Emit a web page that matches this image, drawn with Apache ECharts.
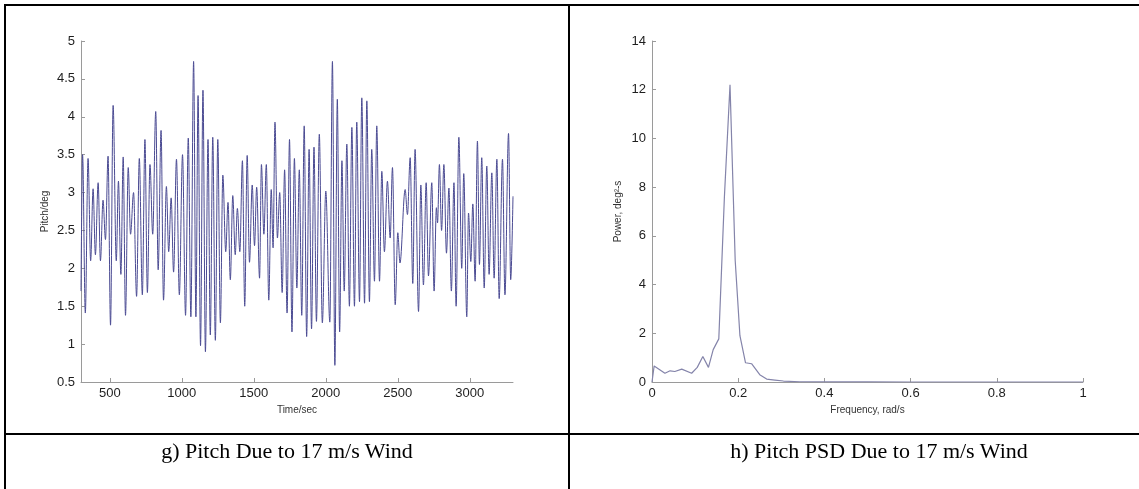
<!DOCTYPE html>
<html>
<head>
<meta charset="utf-8">
<script src="https://cdn.jsdelivr.net/npm/echarts@6/dist/echarts.min.js"></script>
<style>
  html, body { margin: 0; padding: 0; background: #fff; }
  #wrap { position: relative; width: 1139px; height: 489px; overflow: hidden; background: #fff; }
  #chart { position: absolute; left: 0; top: 0; width: 1139px; height: 489px; }
  .ln { position: absolute; background: #000; }
  .cap { position: absolute; top: 438px; height: 26px; line-height: 26px; text-align: center;
         font-family: "Liberation Serif", "DejaVu Serif", serif; font-size: 22px; color: #000; white-space: nowrap; }
  .cap span { display: inline-block; }
</style>
</head>
<body>
<div id="wrap">
  <div id="chart"></div>
  <div class="ln" style="left:4px; top:4px; width:1135px; height:2px;"></div>
  <div class="ln" style="left:4px; top:4px; width:2px; height:485px;"></div>
  <div class="ln" style="left:568px; top:4px; width:2px; height:485px;"></div>
  <div class="ln" style="left:4px; top:433px; width:1135px; height:2px;"></div>
  <div class="cap" style="left:6px; width:562px;"><span>g) Pitch Due to 17 m/s Wind</span></div>
  <div class="cap" style="left:570px; width:618px;"><span>h) Pitch PSD Due to 17 m/s Wind</span></div>
</div>
<script>
// ---- Panel g: pitch time history (extrema) ----
const pitchTime = [
  300, 311, 330, 349, 367, 384, 400, 419, 435, 453, 470, 488, 505, 523, 545, 560, 577, 593, 609, 628,
  644, 665, 686, 705, 726, 744, 761, 779, 798, 819, 836, 856, 873, 893, 909, 926, 943, 963, 983, 1005,
  1026, 1045, 1063, 1082, 1098, 1113, 1130, 1147, 1164, 1182, 1198, 1215, 1233, 1250, 1268, 1285, 1305, 1321, 1337, 1354,
  1371, 1386, 1403, 1421, 1437, 1454, 1470, 1489, 1505, 1520, 1540, 1553, 1570, 1587, 1604, 1621, 1634, 1647, 1664, 1680,
  1697, 1714, 1731, 1748, 1765, 1782, 1799, 1816, 1833, 1850, 1867, 1884, 1901, 1918, 1935, 1955, 1976, 2000, 2028, 2046,
  2063, 2080, 2096, 2112, 2128, 2146, 2164, 2181, 2199, 2215, 2234, 2250, 2269, 2285, 2303, 2319, 2338, 2354, 2373, 2389,
  2407, 2428, 2447, 2463, 2482, 2500, 2515, 2551, 2567, 2586, 2604, 2620, 2644, 2660, 2678, 2697, 2713, 2736, 2752, 2768,
  2776, 2789, 2804, 2820, 2838, 2855, 2872, 2890, 2905, 2924, 2944, 2958, 2979, 2991, 3007, 3021, 3037, 3053, 3067, 3083,
  3100, 3118, 3134, 3153, 3169, 3188, 3204, 3227, 3244, 3269, 3284, 3300
];
const pitchDeg = [
  1.7, 3.5, 1.41, 3.45, 2.1, 3.05, 2.18, 3.13, 2.1, 2.9, 2.38, 3.48, 1.25, 4.15, 2.1, 3.15, 1.92, 3.47, 1.38, 3.33,
  2.45, 3.0, 1.63, 3.45, 1.65, 3.7, 1.68, 3.37, 2.45, 4.07, 1.98, 3.82, 1.58, 3.08, 2.22, 2.93, 1.95, 3.44, 1.65, 3.5,
  1.38, 3.72, 1.36, 4.73, 1.36, 4.28, 0.98, 4.35, 0.9, 3.7, 1.12, 3.73, 1.05, 3.7, 1.28, 3.23, 2.22, 2.87, 1.85, 2.96,
  2.18, 2.79, 2.22, 3.42, 1.5, 3.49, 2.08, 3.1, 2.3, 3.07, 1.87, 3.37, 2.45, 3.37, 1.58, 3.04, 2.27, 3.93, 2.4, 3.0,
  1.68, 3.3, 1.41, 3.7, 1.16, 3.45, 1.74, 3.3, 1.38, 3.88, 1.1, 3.57, 1.2, 3.6, 1.3, 3.77, 1.28, 3.02, 1.29, 4.73,
  0.72, 4.23, 1.16, 3.42, 1.7, 3.64, 1.5, 3.86, 1.5, 3.93, 1.56, 4.25, 1.54, 4.21, 1.56, 3.57, 1.83, 3.88, 1.83, 3.28,
  2.22, 3.15, 2.4, 3.33, 1.52, 2.47, 2.07, 3.04, 2.71, 3.46, 1.8, 3.57, 1.43, 3.1, 1.78, 3.13, 1.9, 3.13, 1.7, 2.8,
  2.6, 3.37, 2.5, 3.37, 2.2, 3.06, 1.7, 3.13, 1.5, 3.73, 2.0, 3.25, 1.36, 2.73, 2.09, 2.85, 1.83, 3.68, 2.05, 3.46,
  1.74, 3.35, 1.92, 3.26, 1.87, 3.44, 1.6, 3.44, 1.65, 3.78, 1.85, 2.95
];
const timeTicks = [500, 1000, 1500, 2000, 2500, 3000];

// ---- Panel h: pitch PSD ----
const psdFreq = [0, 0.005, 0.030, 0.042, 0.053, 0.069, 0.092, 0.105, 0.118, 0.131, 0.142, 0.155, 0.168, 0.181, 0.193,
  0.204, 0.217, 0.231, 0.250, 0.266, 0.285, 0.305, 0.343, 0.40, 0.50, 0.60, 0.80, 1.0];
const psdPower = [0, 0.66, 0.36, 0.46, 0.43, 0.53, 0.36, 0.6, 1.05, 0.6, 1.33, 1.77, 7.6, 12.2, 5.0,
  1.9, 0.79, 0.75, 0.3, 0.12, 0.08, 0.04, 0.01, 0.005, 0.002, 0.0, 0.0, 0.0];

const pitchData = pitchTime.map((t, i) => [t, pitchDeg[i]]);
const psdData = psdFreq.map((f, i) => [f, psdPower[i]]);

const font = '"Liberation Sans", Arial, sans-serif';
const axisLineStyle = { color: '#9a9a9a', width: 1 };
const labelStyle = { color: '#1e1e1e', fontSize: 13, fontFamily: font };
const nameStyle = { color: '#333', fontSize: 10, fontFamily: font };
const plain = v => String(v);

const chart = echarts.init(document.getElementById('chart'), null, { renderer: 'canvas' });
chart.setOption({
  animation: false,
  backgroundColor: 'transparent',
  grid: [
    { left: 81, top: 41, width: 432, height: 341 },
    { left: 652, top: 41, width: 431, height: 341 }
  ],
  xAxis: [
    {
      gridIndex: 0, type: 'value', min: 300, max: 3300,
      axisLine: { show: true, lineStyle: axisLineStyle },
      axisTick: { show: true, inside: true, length: 4, lineStyle: axisLineStyle, customValues: timeTicks },
      axisLabel: { ...labelStyle, margin: 5, customValues: timeTicks, formatter: plain },
      splitLine: { show: false },
      name: 'Time/sec', nameLocation: 'middle', nameGap: 23, nameTextStyle: nameStyle
    },
    {
      gridIndex: 1, type: 'value', min: 0, max: 1, interval: 0.2,
      axisLine: { show: true, onZero: false, lineStyle: axisLineStyle },
      axisTick: { show: true, inside: true, length: 4, lineStyle: axisLineStyle },
      axisLabel: { ...labelStyle, margin: 5, showMinLabel: true, showMaxLabel: true, formatter: plain },
      splitLine: { show: false },
      name: 'Frequency, rad/s', nameLocation: 'middle', nameGap: 23, nameTextStyle: nameStyle
    }
  ],
  yAxis: [
    {
      gridIndex: 0, type: 'value', min: 0.5, max: 5, interval: 0.5,
      axisLine: { show: true, lineStyle: axisLineStyle },
      axisTick: { show: true, inside: true, length: 4, lineStyle: axisLineStyle },
      axisLabel: { ...labelStyle, margin: 6, formatter: plain },
      splitLine: { show: false },
      name: 'Pitch/deg', nameLocation: 'middle', nameGap: 31, nameRotate: 90, nameTextStyle: nameStyle
    },
    {
      gridIndex: 1, type: 'value', min: 0, max: 14, interval: 2,
      axisLine: { show: true, onZero: false, lineStyle: axisLineStyle },
      axisTick: { show: true, inside: true, length: 4, lineStyle: axisLineStyle },
      axisLabel: { ...labelStyle, margin: 6, formatter: plain },
      splitLine: { show: false },
      name: 'Power, deg²-s', nameLocation: 'middle', nameGap: 29, nameRotate: 90, nameTextStyle: nameStyle
    }
  ],
  series: [
    {
      type: 'line', xAxisIndex: 0, yAxisIndex: 0, data: pitchData,
      smooth: 0.35, smoothMonotone: 'x', showSymbol: false,
      lineStyle: { color: '#4a4a92', width: 1 }
    },
    {
      type: 'line', xAxisIndex: 1, yAxisIndex: 1, data: psdData,
      showSymbol: false,
      lineStyle: { color: '#8484aa', width: 1.2 }
    }
  ]
});
</script>
</body>
</html>
